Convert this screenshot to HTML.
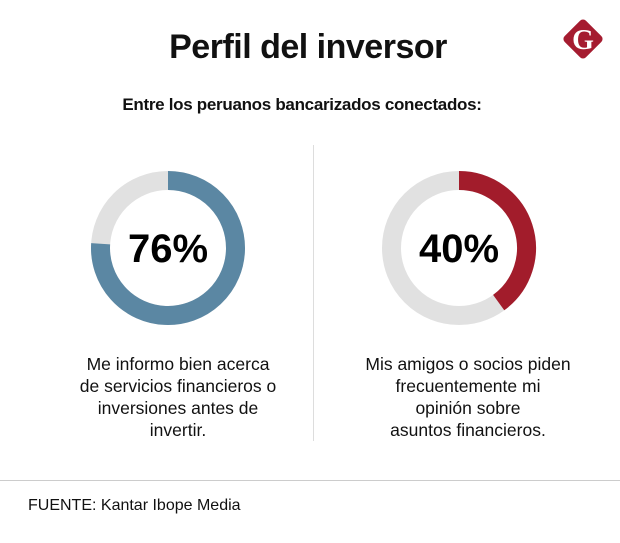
<!DOCTYPE html>
<html><head><meta charset="utf-8"><style>
body{margin:0;background:#fff;font-family:"Liberation Sans",sans-serif;}
#c{position:relative;width:620px;height:543px;overflow:hidden;}
.t{position:absolute;white-space:nowrap;color:#111;}
</style></head><body>
<div id="c">
<div class="t" style="left:0;width:616px;text-align:center;top:28px;font-size:34px;font-weight:bold;letter-spacing:-0.5px;">Perfil del inversor</div>
<svg style="position:absolute;left:560px;top:15px" width="46" height="50" viewBox="0 0 46 50">
<rect x="8" y="9" width="30" height="30" rx="4" fill="#a51c30" transform="rotate(45 23 24)"/>
<text x="23" y="34" text-anchor="middle" font-family="Liberation Serif" font-weight="bold" font-size="28" fill="#fff">G</text></svg>
<div class="t" style="left:0;width:604px;text-align:center;top:95px;font-size:17px;font-weight:bold;letter-spacing:-0.3px;">Entre los peruanos bancarizados conectados:</div>
<div style="position:absolute;left:313px;top:145px;width:1px;height:296px;background:#ddd"></div>
<svg id="ch" style="position:absolute;left:0;top:0" width="620" height="543"></svg>
<div class="t" style="left:28px;width:300px;text-align:center;top:353px;font-size:17.5px;line-height:22px;">Me informo bien acerca<br>de servicios financieros o<br>inversiones antes de<br>invertir.</div>
<div class="t" style="left:318px;width:300px;text-align:center;top:353px;font-size:17.5px;line-height:22px;">Mis amigos o socios piden<br>frecuentemente mi<br>opinión sobre<br>asuntos financieros.</div>
<div style="position:absolute;left:0;top:480px;width:620px;height:1px;background:#ccc"></div>
<div class="t" style="left:28px;top:497px;font-size:16px;">FUENTE: Kantar Ibope Media</div>
</div>
<script>
const labels=["informados","consultados"];
const values=[76,40];
const colors=["#5b87a3","#a21c2b"];
const cx=[168,459];
const svg=document.getElementById('ch');
const NS="http://www.w3.org/2000/svg";
const cy=248,R=67.5,W=19;
for(let i=0;i<values.length;i++){
  const bg=document.createElementNS(NS,'circle');
  
  
  bg.setAttribute('cx',cx[i]);bg.setAttribute('cy',cy);bg.setAttribute('r',R);
  bg.setAttribute('fill','none');bg.setAttribute('stroke','#e1e1e1');bg.setAttribute('stroke-width',W);
  svg.appendChild(bg);
  const a=values[i]/100*2*Math.PI;
  const x=cx[i]+R*Math.sin(a),y=cy-R*Math.cos(a);
  const p=document.createElementNS(NS,'path');
  
  
  p.setAttribute('d',`M${cx[i]} ${cy-R} A${R} ${R} 0 ${values[i]>50?1:0} 1 ${x} ${y}`);
  p.setAttribute('fill','none');p.setAttribute('stroke',colors[i]);p.setAttribute('stroke-width',W);
  svg.appendChild(p);
  const t=document.createElementNS(NS,'text');
  
  
  t.setAttribute('x',cx[i]);t.setAttribute('y',cy+14);t.setAttribute('text-anchor','middle');
  t.setAttribute('font-family','Liberation Sans');t.setAttribute('font-weight','bold');t.setAttribute('font-size','40');
  t.textContent=values[i]+'%';
  svg.appendChild(t);
}
</script>
</body></html>
